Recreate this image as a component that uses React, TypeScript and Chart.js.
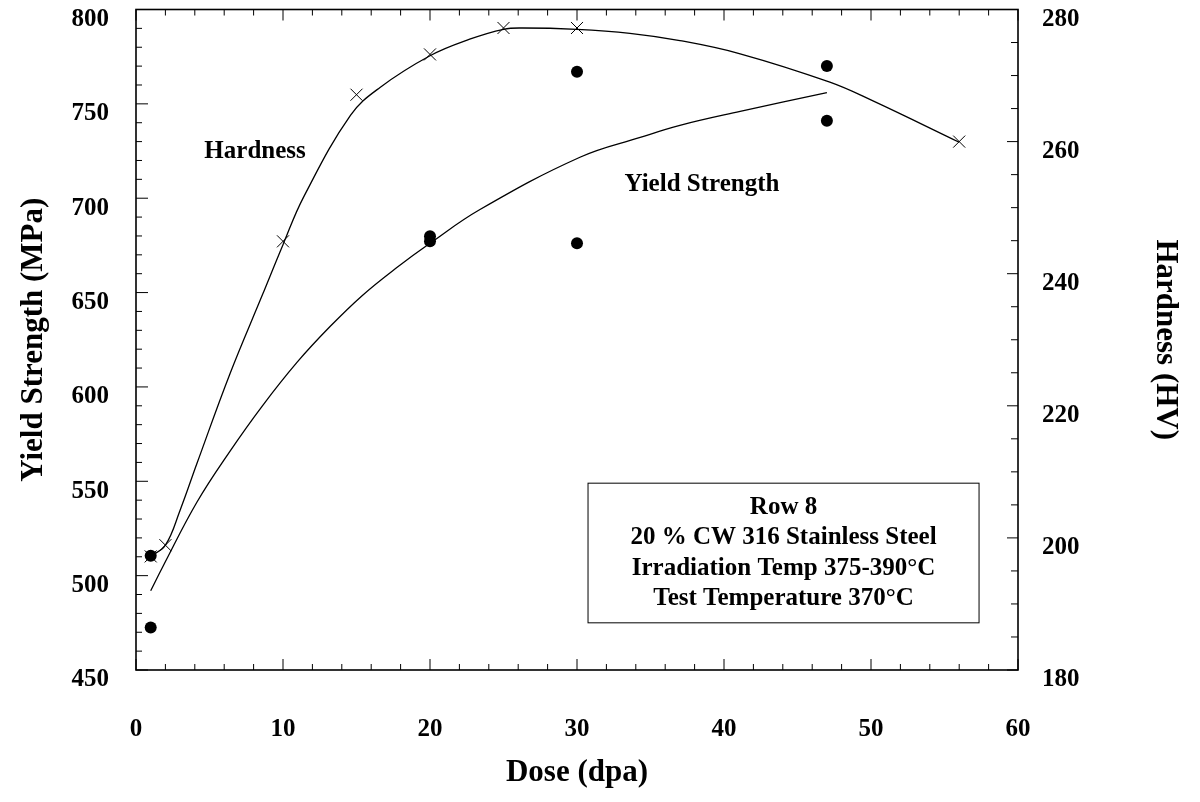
import React, { useEffect, useRef } from "react";
import { Chart, registerables } from "chart.js";

Chart.register(...registerables);

// Measured hardness points (dose dpa, HV)
const hardnessDose = [1, 2, 10, 15, 20, 25, 30, 56];
const hardnessHV = [197.2, 198.9, 244.9, 267.1, 273.2, 277.2, 277.2, 260.0];

// Hardness fit curve
const hardnessFitDose = [1, 2, 3, 4.15, 6.4, 8.6, 10, 11.4, 14.6, 16.6, 20, 22.7, 25, 26.3, 30, 33.6, 37, 41.1, 47.2, 50.1, 56];
const hardnessFitHV = [197.2, 198.9, 204.2, 211.3, 224.9, 236.8, 244.4, 251.6, 264.0, 268.2, 273.0, 275.5, 277.0, 277.2, 277.0, 276.4, 275.3, 273.3, 269.0, 266.2, 259.9];

// Measured yield strength points (dose dpa, MPa)
const yieldDose = [1, 1, 20, 20, 30, 30, 47, 47];
const yieldMPa = [510.5, 472.5, 679.8, 677.2, 767.0, 676.1, 770.0, 741.0];

// Yield strength fit curve
const yieldFitDose = [1, 1.84, 4.15, 6.4, 8.6, 10.95, 13.2, 15.4, 17.7, 20, 23.4, 30.2, 34.3, 37, 41.1, 47];
const yieldFitMPa = [492, 505, 539, 566, 590, 613, 632, 648.5, 663, 676.1, 694, 721.7, 732.2, 738.6, 746, 756];

// Axis ranges and tick steps
const xRange = [0, 60];
const xMajor = 10;
const xMinor = 2;
const yRange = [450, 800];
const yMajor = 50;
const yMinor = 10;
const y2Range = [180, 280];
const y2Major = 20;
const y2Minor = 5;

const boxLines = [
  "Row 8",
  "20 % CW 316 Stainless Steel",
  "Irradiation Temp 375-390\u00b0C",
  "Test Temperature 370\u00b0C",
];

const FONT = "'Liberation Serif', 'Times New Roman', serif";

const framePlugin = {
  id: "frameTicks",
  afterDraw(chart: any) {
    const { ctx, chartArea } = chart;
    const { left, right, top, bottom } = chartArea;
    const x = chart.scales.x;
    const y = chart.scales.y;
    const y2 = chart.scales.y2;
    ctx.save();
    ctx.strokeStyle = "#000";
    ctx.lineWidth = 1;
    const line = (a: number, b: number, c: number, d: number) => {
      ctx.beginPath();
      ctx.moveTo(a, b);
      ctx.lineTo(c, d);
      ctx.stroke();
    };
    for (let v = xRange[0]; v <= xRange[1] + 1e-9; v += xMinor) {
      const px = x.getPixelForValue(v);
      const len = Math.abs(v % xMajor) < 1e-9 ? 11 : 6;
      line(px, bottom, px, bottom - len);
      line(px, top, px, top + len);
    }
    for (let v = yRange[0]; v <= yRange[1] + 1e-9; v += yMinor) {
      const py = y.getPixelForValue(v);
      const len = Math.abs((v - yRange[0]) % yMajor) < 1e-9 ? 12 : 6;
      line(left, py, left + len, py);
    }
    for (let v = y2Range[0]; v <= y2Range[1] + 1e-9; v += y2Minor) {
      const py = y2.getPixelForValue(v);
      const len = Math.abs((v - y2Range[0]) % y2Major) < 1e-9 ? 11 : 7;
      line(right, py, right - len, py);
    }
    ctx.lineWidth = 1.6;
    ctx.strokeRect(left, top, right - left, bottom - top);

    // annotations
    ctx.fillStyle = "#000";
    ctx.font = `bold 25px ${FONT}`;
    ctx.textAlign = "center";
    ctx.textBaseline = "middle";
    ctx.fillText("Hardness", x.getPixelForValue(8.1), y.getPixelForValue(724.5));
    ctx.fillText("Yield Strength", x.getPixelForValue(38.5), y.getPixelForValue(707));

    // info box
    const bx1 = x.getPixelForValue(30.75);
    const bx2 = x.getPixelForValue(57.35);
    const by1 = y.getPixelForValue(549);
    const by2 = y.getPixelForValue(475);
    ctx.lineWidth = 1;
    ctx.strokeRect(bx1, by1, bx2 - bx1, by2 - by1);
    const cx = (bx1 + bx2) / 2;
    boxLines.forEach((t, i) => {
      ctx.fillText(t, cx, by1 + 24 + i * 30.5);
    });
    ctx.restore();
  },
};

export default function App() {
  const ref = useRef<HTMLCanvasElement>(null);
  useEffect(() => {
    if (!ref.current) return;
    const tickFont = { family: FONT, size: 25, weight: "bold" as const };
    const titleFont = { family: FONT, size: 31, weight: "bold" as const };
    const chart = new Chart(ref.current, {
      type: "scatter",
      data: {
        datasets: [
          {
            label: "Hardness fit",
            data: hardnessFitDose.map((d, i) => ({ x: d, y: hardnessFitHV[i] })),
            yAxisID: "y2",
            showLine: true,
            borderColor: "#000",
            borderWidth: 1.3,
            pointRadius: 0,
            tension: 0.4,
            fill: false,
          },
          {
            label: "Yield fit",
            data: yieldFitDose.map((d, i) => ({ x: d, y: yieldFitMPa[i] })),
            yAxisID: "y",
            showLine: true,
            borderColor: "#000",
            borderWidth: 1.3,
            pointRadius: 0,
            tension: 0.4,
            fill: false,
          },
          {
            label: "Hardness",
            data: hardnessDose.map((d, i) => ({ x: d, y: hardnessHV[i] })),
            yAxisID: "y2",
            showLine: false,
            pointStyle: "crossRot",
            pointRadius: 8.5,
            borderColor: "#000",
            borderWidth: 1,
            backgroundColor: "#000",
          },
          {
            label: "Yield Strength",
            data: yieldDose.map((d, i) => ({ x: d, y: yieldMPa[i] })),
            yAxisID: "y",
            showLine: false,
            pointStyle: "circle",
            pointRadius: 6,
            borderWidth: 0,
            backgroundColor: "#000",
          },
        ],
      },
      options: {
        animation: false,
        responsive: false,
        layout: { padding: { top: 9, left: 0, right: 0, bottom: 0 } },
        plugins: { legend: { display: false }, tooltip: { enabled: false } },
        scales: {
          x: {
            type: "linear",
            position: "bottom",
            min: xRange[0],
            max: xRange[1],
            ticks: { stepSize: xMajor, font: tickFont, color: "#000", padding: 45, maxRotation: 0 },
            grid: { display: false, drawTicks: false },
            border: { display: false },
            title: { display: true, text: "Dose (dpa)", font: titleFont, color: "#000", padding: { top: 0, bottom: 10 } },
            afterFit: (s: any) => { s.height = 132; s.paddingLeft = 0; s.paddingRight = 0; },
          },
          y: {
            type: "linear",
            position: "left",
            min: yRange[0],
            max: yRange[1],
            ticks: { stepSize: yMajor, font: tickFont, color: "#000", padding: 27, labelOffset: 10 },
            grid: { display: false, drawTicks: false },
            border: { display: false },
            title: { display: true, text: "Yield Strength (MPa)", font: titleFont, color: "#000", padding: { top: 15, bottom: 0 } },
            afterFit: (s: any) => { s.width = 136; s.paddingTop = 0; s.paddingBottom = 0; },
          },
          y2: {
            type: "linear",
            position: "right",
            min: y2Range[0],
            max: y2Range[1],
            ticks: { stepSize: y2Major, font: tickFont, color: "#000", padding: 24, labelOffset: 10 },
            grid: { display: false, drawTicks: false },
            border: { display: false },
            title: { display: true, text: "Hardness (HV)", font: titleFont, color: "#000", padding: { top: 16, bottom: 0 } },
            afterFit: (s: any) => { s.width = 182; s.paddingTop = 0; s.paddingBottom = 0; },
          },
        },
      },
      plugins: [framePlugin],
    } as any);
    return () => chart.destroy();
  }, []);
  return (
    <div style={{ position: "absolute", left: 0, top: 0, width: 1200, height: 802, background: "#fff" }}>
      <canvas ref={ref} width={1200} height={802} style={{ display: "block", width: 1200, height: 802 }} />
    </div>
  );
}
